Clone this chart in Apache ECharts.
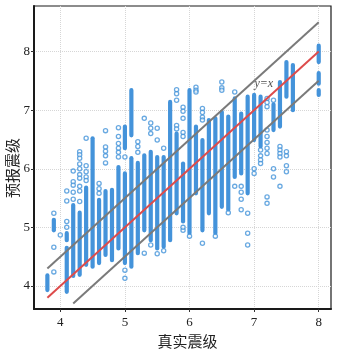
<!DOCTYPE html>
<html>
<head>
<meta charset="utf-8">
<script src="https://cdn.jsdelivr.net/npm/echarts@6/dist/echarts.min.js"></script>
<style>
  html, body { margin: 0; padding: 0; background: #fff; }
  #chart { width: 338px; height: 349px; }
</style>
</head>
<body>
<div id="chart"></div>
<script>
// tick values on both axes
const tickValues = [4, 5, 6, 7, 8]

// dense columns of points: [true magnitude, lowest predicted, highest predicted]
const denseRuns = [
  [3.8, 3.93, 4.18],
  [3.9, 4.95, 5.13],
  [4.1, 3.9, 4.65], [4.1, 4.78, 4.9],
  [4.2, 4.17, 5.38],
  [4.3, 4.19, 5.25],
  [4.4, 4.36, 5.68],
  [4.5, 4.33, 6.52],
  [4.6, 4.39, 5.47],
  [4.7, 4.53, 5.62],
  [4.8, 4.44, 5.64],
  [4.9, 4.64, 6.03],
  [5.0, 4.39, 5.92], [5.0, 6.35, 6.72],
  [5.1, 4.33, 6.18], [5.1, 6.57, 7.34],
  [5.2, 4.56, 6.1],
  [5.3, 4.95, 6.23],
  [5.4, 4.78, 6.29],
  [5.5, 4.64, 6.2],
  [5.6, 4.67, 6.2],
  [5.7, 4.78, 7.14],
  [5.8, 5.24, 6.6],
  [5.9, 5.1, 6.09],
  [6.0, 4.9, 7.34],
  [6.1, 5.58, 6.72],
  [6.2, 4.95, 6.49],
  [6.3, 5.24, 6.83],
  [6.4, 4.9, 6.86],
  [6.5, 5.35, 6.97],
  [6.6, 5.3, 6.89],
  [6.7, 5.86, 7.2],
  [6.8, 5.92, 6.94],
  [6.9, 5.58, 7.23],
  [7.0, 6.49, 7.26],
  [7.1, 6.38, 7.23],
  [7.3, 6.66, 7.1],
  [7.4, 6.72, 7.48],
  [7.5, 7.23, 7.82],
  [7.6, 7.0, 7.77],
  [8.0, 7.82, 8.1], [8.0, 7.45, 7.63], [8.0, 7.26, 7.34]
]

// scattered single points: [true magnitude, predicted]
const loosePoints = [
  [3.9, 5.24], [3.9, 4.66], [3.9, 4.24],
  [4.0, 4.87],
  [4.1, 5.62], [4.1, 5.45], [4.1, 5.1], [4.1, 5.0],
  [4.2, 5.96], [4.2, 5.78], [4.2, 5.72], [4.2, 5.6], [4.2, 5.48],
  [4.3, 6.29], [4.3, 6.24], [4.3, 6.18], [4.3, 6.08], [4.3, 6.0], [4.3, 5.9], [4.3, 5.84], [4.3, 5.7], [4.3, 5.62], [4.3, 5.44],
  [4.4, 6.52], [4.4, 6.05], [4.4, 5.95], [4.4, 5.86], [4.4, 5.8],
  [4.6, 5.75], [4.6, 5.66], [4.6, 5.58],
  [4.7, 6.65], [4.7, 6.37], [4.7, 6.3], [4.7, 6.22], [4.7, 6.1],
  [4.9, 6.7], [4.9, 6.55], [4.9, 6.43], [4.9, 6.35], [4.9, 6.28], [4.9, 6.2],
  [5.0, 6.2], [5.0, 4.27], [5.0, 4.13],
  [5.2, 6.46], [5.2, 6.38], [5.2, 6.28],
  [5.3, 6.86], [5.3, 4.56],
  [5.4, 6.78], [5.4, 6.69], [5.4, 6.6], [5.4, 4.7],
  [5.5, 6.69], [5.5, 6.49], [5.5, 4.55],
  [5.6, 6.35], [5.6, 4.6],
  [5.8, 7.35], [5.8, 7.28], [5.8, 7.17], [5.8, 6.74], [5.8, 6.68],
  [5.9, 7.05], [5.9, 6.98], [5.9, 6.86], [5.9, 6.62], [5.9, 6.55], [5.9, 4.95], [5.9, 5.0],
  [6.0, 4.85],
  [6.1, 7.39], [6.1, 7.34], [6.1, 7.31],
  [6.2, 7.03], [6.2, 6.96], [6.2, 6.88], [6.2, 6.83], [6.2, 4.73],
  [6.4, 4.85],
  [6.5, 7.48], [6.5, 7.38], [6.5, 7.34],
  [6.6, 5.25],
  [6.7, 7.31], [6.7, 5.7],
  [6.8, 5.7], [6.8, 5.6], [6.8, 5.48], [6.8, 5.3],
  [6.9, 5.24], [6.9, 4.9], [6.9, 4.7],
  [7.0, 5.92], [7.0, 6.0],
  [7.1, 6.32], [7.1, 6.22], [7.1, 6.15], [7.1, 6.09],
  [7.2, 7.2], [7.2, 7.13], [7.2, 7.06], [7.2, 6.66], [7.2, 6.55], [7.2, 6.45], [7.2, 6.35], [7.2, 6.26], [7.2, 5.52], [7.2, 5.41],
  [7.3, 7.17], [7.3, 6.0], [7.3, 5.86],
  [7.4, 6.38], [7.4, 6.32], [7.4, 6.26], [7.4, 6.2], [7.4, 5.7],
  [7.5, 6.29], [7.5, 6.22], [7.5, 6.05], [7.5, 5.95]
]

// reference lines
const idealLine = [[3.8, 3.8], [8.0, 8.0]]
const upperLine = [[3.8, 4.3], [8.0, 8.5]]
const lowerLine = [[4.2, 3.7], [8.0, 7.5]]
const lineLabelAt = [[7.15, 7.45]]

const blue = '#4493da'
const tickFont = 'Liberation Serif'

let chart = echarts.init(document.getElementById('chart'))
chart.setOption({
  animation: false,
  grid: {
    left: 34,
    right: 7,
    top: 6,
    bottom: 40,
    outerBoundsMode: 'none',
    containLabel: false,
    show: true,
    borderColor: '#1a1a1a',
    borderWidth: 1.2
  },
  // y axis title, placed by hand
  graphic: [
    {
      type: 'text',
      x: 12,
      y: 168,
      rotation: Math.PI / 2,
      style: {
        text: '预报震级',
        fontFamily: 'Noto Sans CJK SC',
        fontSize: 15,
        fill: '#222',
        align: 'center',
        verticalAlign: 'middle'
      }
    }
  ],
  xAxis: {
    type: 'value',
    min: 3.593,
    max: 8.19,
    name: '真实震级',
    nameLocation: 'middle',
    nameGap: 17,
    nameTextStyle: {
      fontFamily: 'Noto Sans CJK SC',
      fontSize: 15,
      color: '#222',
      padding: [0, 0, 0, 10]
    },
    axisLine: { onZero: false, lineStyle: { color: '#1a1a1a', width: 2 } },
    axisTick: { show: true, length: 3, customValues: tickValues, lineStyle: { color: '#333' } },
    axisLabel: {
      customValues: tickValues,
      margin: 7,
      fontFamily: tickFont,
      fontSize: 13,
      color: '#222'
    },
    splitLine: {
      show: true,
      customValues: tickValues,
      lineStyle: { color: '#d6d6d6', type: [1, 1], width: 1 }
    }
  },
  yAxis: {
    type: 'value',
    min: 3.607,
    max: 8.777,
    axisLine: { onZero: false, lineStyle: { color: '#1a1a1a', width: 2 } },
    axisTick: { show: true, length: 3, customValues: tickValues, lineStyle: { color: '#333' } },
    axisLabel: {
      customValues: tickValues,
      margin: 4,
      fontFamily: tickFont,
      fontSize: 13,
      color: '#222'
    },
    splitLine: {
      show: true,
      customValues: tickValues,
      lineStyle: { color: '#d6d6d6', type: [1, 1], width: 1 }
    }
  },
  series: [
    {
      type: 'custom',
      data: denseRuns,
      encode: { x: 0, y: [1, 2] },
      renderItem (params, api) {
        let top = api.coord([api.value(0), api.value(2)])
        let bot = api.coord([api.value(0), api.value(1)])
        return {
          type: 'rect',
          shape: { x: top[0] - 2.1, y: top[1] - 2.1, width: 4.2, height: bot[1] - top[1] + 4.2, r: 2.1 },
          style: { fill: blue }
        }
      },
      z: 2
    },
    {
      type: 'scatter',
      data: loosePoints,
      symbol: 'circle',
      symbolSize: 4.2,
      itemStyle: { color: 'rgba(255,255,255,0.7)', borderColor: blue, borderWidth: 1.3 },
      z: 3
    },
    {
      type: 'line',
      data: upperLine,
      symbol: 'none',
      lineStyle: { color: '#7a7a7a', width: 2 },
      z: 4
    },
    {
      type: 'line',
      data: lowerLine,
      symbol: 'none',
      lineStyle: { color: '#7a7a7a', width: 2 },
      z: 4
    },
    {
      type: 'line',
      data: idealLine,
      symbol: 'none',
      lineStyle: { color: '#dd4b4b', width: 2 },
      z: 5
    },
    {
      type: 'scatter',
      data: lineLabelAt,
      symbolSize: 0,
      silent: true,
      label: {
        show: true,
        position: 'inside',
        formatter: 'y=x',
        fontFamily: tickFont,
        fontStyle: 'italic',
        fontSize: 12,
        color: '#222'
      },
      z: 6
    }
  ]
})
</script>
</body>
</html>
